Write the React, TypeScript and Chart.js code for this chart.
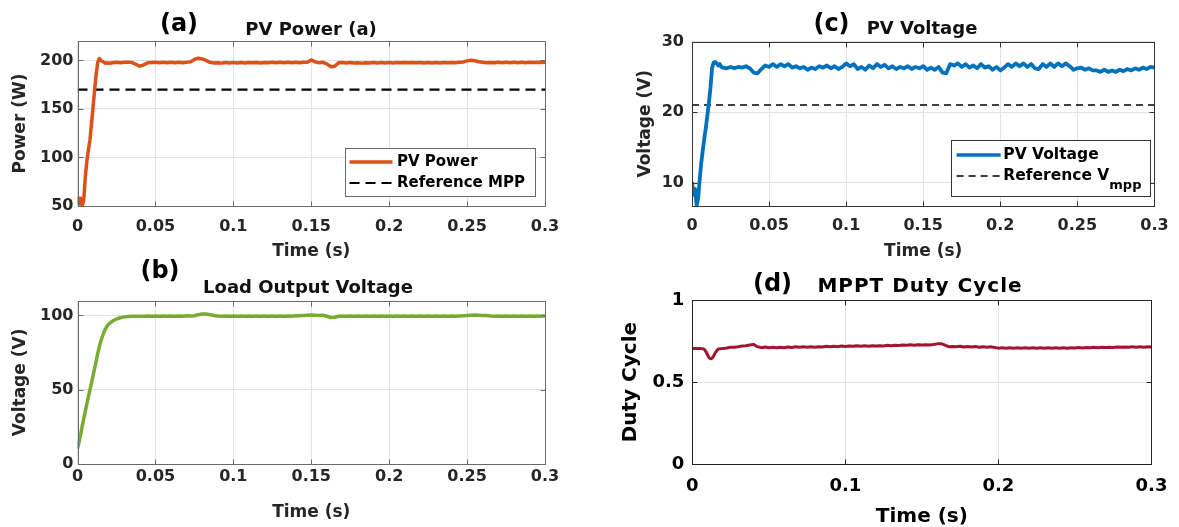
import { useEffect, useRef } from 'react';
import { Chart, registerables } from 'chart.js';

Chart.register(...registerables);

const W = 1179;
const H = 527;
const FONT = "'DejaVu Sans', 'Liberation Sans', Arial, sans-serif";
const GRID = '#e2e2e2';

// Simulation time base (s)
const timeS = [
  0, 0.001, 0.002, 0.003, 0.004, 0.005, 0.006, 0.007, 0.008, 0.009, 0.01,
  0.011, 0.012, 0.013, 0.014, 0.015, 0.016, 0.017, 0.018, 0.019, 0.02,
  0.0225, 0.025, 0.0275, 0.03, 0.0325, 0.035, 0.0375, 0.04, 0.0425, 0.045, 0.0475, 0.05,
  0.0525, 0.055, 0.0575, 0.06, 0.0625, 0.065, 0.0675, 0.07, 0.0725, 0.075, 0.0775, 0.08,
  0.0825, 0.085, 0.0875, 0.09, 0.0925, 0.095, 0.0975, 0.1,
  0.1025, 0.105, 0.1075, 0.11, 0.1125, 0.115, 0.1175, 0.12, 0.1225, 0.125, 0.1275, 0.13,
  0.1325, 0.135, 0.1375, 0.14, 0.1425, 0.145, 0.1475, 0.15,
  0.1525, 0.155, 0.1575, 0.16, 0.1625, 0.165, 0.1675, 0.17, 0.1725, 0.175, 0.1775, 0.18,
  0.1825, 0.185, 0.1875, 0.19, 0.1925, 0.195, 0.1975, 0.2,
  0.2025, 0.205, 0.2075, 0.21, 0.2125, 0.215, 0.2175, 0.22, 0.2225, 0.225, 0.2275, 0.23,
  0.2325, 0.235, 0.2375, 0.24, 0.2425, 0.245, 0.2475, 0.25,
  0.2525, 0.255, 0.2575, 0.26, 0.2625, 0.265, 0.2675, 0.27, 0.2725, 0.275, 0.2775, 0.28,
  0.2825, 0.285, 0.2875, 0.29, 0.2925, 0.295, 0.2975, 0.3,
];

// PV array output power (W)
const pvPowerW = [
  60, 52, 58, 50, 56, 80, 96, 108, 118, 135, 152, 170, 186, 198, 202, 200, 199, 198, 197, 197.5, 197,
  197.5, 198, 197.6, 198, 198, 197.8, 196, 194, 195.5, 197.5, 197.8, 198,
  197.6, 198, 197.7, 198, 197.6, 198.1, 197.7, 198, 198.5, 201, 202.3, 201.6,
  200, 198, 197.4, 197.6, 197.2, 197.8, 197.4, 197.8,
  197.3, 197.8, 197.4, 197.9, 197.5, 197.9, 197.4, 197.9, 197.6, 198, 197.6, 198,
  197.6, 198, 197.7, 198.2, 197.7, 198.2, 198, 200.5,
  198.5, 197.6, 198, 196.5, 193.5, 194, 197.5, 197.8, 197.4, 197.8, 197.3, 197.7,
  197.2, 197.7, 197.3, 197.8, 197.3, 197.8, 197.4, 197.8,
  197.4, 197.9, 197.5, 197.9, 197.5, 197.9, 197.5, 197.9, 197.4, 197.8, 197.4, 197.8,
  197.4, 197.8, 197.5, 197.9, 197.6, 198, 198.4, 199.5,
  200.2, 199.6, 198.6, 198, 197.5, 197.9, 197.6, 198, 197.6, 198, 197.7, 198.1,
  197.7, 198.1, 197.7, 198.1, 197.8, 198.2, 197.9, 198.2,
];

// PV array terminal voltage (V)
const pvVoltageV = [
  10.1, 8.3, 9.1, 6.8, 7.8, 10.5, 12.8, 14.6, 16.3, 17.8, 19.6, 21.4, 23.5, 26.2, 27.0, 27.1, 26.9, 26.6, 26.8, 26.4, 26.3,
  26.2, 26.4, 26.2, 26.4, 26.3, 26.5, 26.2, 25.6, 25.5, 26.1, 26.6, 26.4,
  26.8, 26.4, 26.8, 26.5, 26.8, 26.3, 26.5, 26.2, 26.4, 26.0, 26.3, 26.1,
  26.5, 26.3, 26.6, 26.2, 26.5, 26.1, 26.4, 26.9,
  26.5, 26.8, 26.1, 26.4, 26.0, 26.6, 26.2, 26.8, 26.4, 26.7, 26.2, 26.5,
  26.1, 26.4, 26.2, 26.5, 26.1, 26.4, 26.2, 26.5,
  26.0, 26.3, 26.0, 26.4, 25.6, 25.5, 26.8, 26.6, 26.9, 26.4, 26.8, 26.3,
  26.6, 26.2, 26.8, 26.3, 26.5, 26.0, 26.4, 25.9,
  26.3, 26.8, 26.4, 26.9, 26.5, 26.9, 26.4, 26.8, 26.2, 26.1, 26.8, 26.4,
  26.9, 26.4, 26.9, 26.5, 26.9, 26.5, 26.0, 26.2,
  26.3, 26.0, 26.2, 25.9, 25.9, 25.7, 26.0, 25.7, 25.9, 25.7, 26.0, 25.8,
  26.1, 25.9, 26.2, 26.0, 26.3, 26.1, 26.4, 26.3,
];

// Boost converter load voltage (V)
const loadVoltageV = [
  10.5, 15, 20, 25.5, 30.5, 35.5, 40.5, 45.5, 50, 54.8, 59.5, 64.5, 69.5, 74.5, 79, 82.8, 86, 88.8, 91, 92.8, 94.2,
  96.2, 97.6, 98.4, 99.0, 99.3, 99.4, 99.5, 99.4, 99.5, 99.6, 99.5, 99.6,
  99.5, 99.6, 99.5, 99.6, 99.5, 99.6, 99.5, 99.7, 99.6, 99.8, 100.4, 100.9,
  100.9, 100.5, 99.9, 99.6, 99.5, 99.6, 99.4, 99.6,
  99.5, 99.6, 99.4, 99.6, 99.5, 99.6, 99.5, 99.6, 99.5, 99.6, 99.5, 99.6,
  99.5, 99.6, 99.5, 99.7, 99.8, 100, 100.1, 100.2,
  100.1, 100, 100.1, 99.4, 98.6, 98.8, 99.4, 99.6, 99.5, 99.6, 99.4, 99.6,
  99.5, 99.6, 99.4, 99.6, 99.5, 99.6, 99.5, 99.6,
  99.5, 99.6, 99.4, 99.6, 99.5, 99.6, 99.5, 99.6, 99.4, 99.6, 99.5, 99.6,
  99.5, 99.6, 99.5, 99.6, 99.5, 99.6, 99.7, 99.9,
  100.1, 100.2, 100.1, 100, 99.9, 99.6, 99.5, 99.6, 99.5, 99.6, 99.5, 99.6,
  99.5, 99.6, 99.5, 99.6, 99.5, 99.6, 99.5, 99.6,
];

// MPPT controller duty cycle (-)
const dutyCycle = [
  0.705, 0.705, 0.705, 0.705, 0.705, 0.705, 0.704, 0.703, 0.698, 0.685, 0.665,
  0.648, 0.642, 0.646, 0.66, 0.678, 0.692, 0.702, 0.703, 0.704, 0.705,
  0.708, 0.712, 0.713, 0.716, 0.72, 0.722, 0.726, 0.73, 0.716, 0.71, 0.714, 0.71,
  0.713, 0.709, 0.713, 0.71, 0.714, 0.711, 0.715, 0.712, 0.716, 0.713, 0.716, 0.712,
  0.716, 0.714, 0.718, 0.715, 0.719, 0.716, 0.72, 0.717,
  0.72, 0.718, 0.722, 0.719, 0.721, 0.719, 0.722, 0.72, 0.722, 0.72, 0.724, 0.722,
  0.725, 0.723, 0.726, 0.724, 0.727, 0.725, 0.728, 0.726,
  0.728, 0.726, 0.729, 0.733, 0.734, 0.726, 0.716, 0.717, 0.715, 0.718, 0.714, 0.717,
  0.714, 0.717, 0.713, 0.716, 0.713, 0.715, 0.711, 0.707,
  0.709, 0.706, 0.709, 0.706, 0.709, 0.706, 0.709, 0.706, 0.709, 0.706, 0.709, 0.706,
  0.709, 0.707, 0.71, 0.707, 0.71, 0.707, 0.71, 0.708,
  0.711, 0.708, 0.711, 0.709, 0.712, 0.71, 0.713, 0.711, 0.713, 0.711, 0.714, 0.712,
  0.714, 0.712, 0.715, 0.713, 0.715, 0.713, 0.716, 0.714,
];

const refMppW = 170;
const refVmppV = 21;

const xTicksFine = [0, 0.05, 0.1, 0.15, 0.2, 0.25, 0.3];
const xTickLabelsFine = ['0', '0.05', '0.1', '0.15', '0.2', '0.25', '0.3'];
const xTicksCoarse = [0, 0.1, 0.2, 0.3];
const xTickLabelsCoarse = ['0', '0.1', '0.2', '0.3'];
const powerTicks = [50, 100, 150, 200];
const powerTickLabels = ['50', '100', '150', '200'];
const pvVoltTicks = [10, 20, 30];
const pvVoltTickLabels = ['10', '20', '30'];
const loadVoltTicks = [0, 50, 100];
const loadVoltTickLabels = ['0', '50', '100'];
const dutyTicks = [0, 0.5, 1];
const dutyTickLabels = ['0', '0.5', '1'];

const toPoints = (xs: number[], ys: number[]) =>
  ys.slice(0, xs.length).map((y, i) => ({ x: xs[i], y }));
const flatLine = (v: number) => [
  { x: xTicksFine[0], y: v },
  { x: xTicksFine[xTicksFine.length - 1], y: v },
];

// Draws the MATLAB-style axes box, inward ticks, panel titles and legends.
const panelDecor = {
  id: 'panelDecor',
  afterDraw(chart: any, _args: any, o: any) {
    const { ctx, chartArea: a } = chart;
    const xs = chart.scales.x;
    const ys = chart.scales.y;
    ctx.save();
    ctx.strokeStyle = o.axisColor;
    ctx.lineWidth = 1;
    const l = Math.round(a.left) + 0.5;
    const r = Math.round(a.right) + 0.5;
    const t = Math.round(a.top) + 0.5;
    const b = Math.round(a.bottom) + 0.5;
    ctx.strokeRect(l, t, r - l, b - t);
    ctx.beginPath();
    for (const tk of xs.ticks) {
      const p = Math.round(xs.getPixelForValue(tk.value)) + 0.5;
      ctx.moveTo(p, b);
      ctx.lineTo(p, b - o.tickLen);
      ctx.moveTo(p, t);
      ctx.lineTo(p, t + o.tickLen);
    }
    for (const tk of ys.ticks) {
      const p = Math.round(ys.getPixelForValue(tk.value)) + 0.5;
      ctx.moveTo(l, p);
      ctx.lineTo(l + o.tickLen, p);
      ctx.moveTo(r, p);
      ctx.lineTo(r - o.tickLen, p);
    }
    ctx.stroke();

    if (o.legend) {
      const lg = o.legend;
      const [x0, y0, x1, y1] = lg.box;
      ctx.fillStyle = '#ffffff';
      ctx.fillRect(x0, y0, x1 - x0, y1 - y0);
      ctx.strokeStyle = o.axisColor;
      ctx.lineWidth = 1;
      ctx.strokeRect(Math.round(x0) + 0.5, Math.round(y0) + 0.5, Math.round(x1 - x0), Math.round(y1 - y0));
      lg.rows.forEach((row: any) => {
        const ds = chart.data.datasets[row.dataset];
        ctx.beginPath();
        ctx.strokeStyle = ds.borderColor;
        ctx.lineWidth = row.sampleWidth;
        ctx.setLineDash(ds.borderDash || []);
        ctx.moveTo(lg.sample[0], row.y);
        ctx.lineTo(lg.sample[1], row.y);
        ctx.stroke();
        ctx.setLineDash([]);
        ctx.fillStyle = '#000000';
        ctx.textAlign = 'left';
        ctx.textBaseline = 'middle';
        ctx.font = `bold ${lg.size}px ${FONT}`;
        ctx.fillText(ds.label, lg.textX, row.y);
        if (row.sub) {
          const w = ctx.measureText(ds.label).width;
          ctx.font = `bold ${lg.subSize}px ${FONT}`;
          ctx.fillText(row.sub, lg.textX + w, row.y + lg.subDrop);
        }
      });
    }

    for (const tx of o.texts) {
      ctx.font = `bold ${tx.size}px ${FONT}`;
      ctx.fillStyle = tx.color;
      ctx.textAlign = 'center';
      ctx.textBaseline = 'middle';
      ctx.letterSpacing = `${tx.spacing || 0}px`;
      ctx.fillText(tx.text, tx.x, tx.y);
    }
    ctx.letterSpacing = '0px';
    ctx.restore();
  },
};

type PanelSpec = {
  area: { left: number; top: number; right: number; bottom: number };
  yBoxWidth: number;
  xBoxHeight: number;
  xTicks: number[];
  xTickLabels: string[];
  yTicks: number[];
  yTickLabels: string[];
  yMin: number;
  yMax: number;
  yTitle: string;
  textColor: string;
  axisColor: string;
  tickSize: number;
  titleSize: number;
  xTickPad: number;
  yTickPad: number;
  xTitlePad: number;
  yTitlePad: number;
  xTitleLineHeight?: number;
  datasets: any[];
  texts: any[];
  legend?: any;
};

function makeConfig(p: PanelSpec): any {
  const tickFont = { family: FONT, size: p.tickSize, weight: 'bold' };
  const titleFont = { family: FONT, size: p.titleSize, weight: 'bold' };
  return {
    type: 'line',
    data: { datasets: p.datasets },
    plugins: [panelDecor],
    options: {
      responsive: false,
      animation: false,
      events: [],
      layout: {
        padding: {
          left: p.area.left - p.yBoxWidth,
          top: p.area.top,
          right: W - p.area.right,
          bottom: H - p.area.bottom - p.xBoxHeight,
        },
      },
      elements: { point: { radius: 0 }, line: { tension: 0, borderJoinStyle: 'round' } },
      plugins: {
        legend: { display: false },
        tooltip: { enabled: false },
        title: { display: false },
        panelDecor: { axisColor: p.axisColor, tickLen: 5, texts: p.texts, legend: p.legend },
      },
      scales: {
        x: {
          type: 'linear',
          min: p.xTicks[0],
          max: p.xTicks[p.xTicks.length - 1],
          afterFit: (s: any) => {
            s.height = p.xBoxHeight;
          },
          afterBuildTicks: (s: any) => {
            s.ticks = p.xTicks.map((v) => ({ value: v }));
          },
          grid: { color: GRID, drawTicks: false },
          border: { display: false },
          ticks: {
            padding: p.xTickPad,
            color: p.textColor,
            font: tickFont,
            maxRotation: 0,
            autoSkip: false,
            callback: (_v: any, i: number) => p.xTickLabels[i],
          },
          title: {
            display: true,
            text: 'Time (s)',
            color: p.textColor,
            font: { ...titleFont, lineHeight: p.xTitleLineHeight || 1.2 },
            padding: { top: 0, bottom: p.xTitlePad },
          },
        },
        y: {
          type: 'linear',
          min: p.yMin,
          max: p.yMax,
          afterFit: (s: any) => {
            s.width = p.yBoxWidth;
          },
          afterBuildTicks: (s: any) => {
            s.ticks = p.yTicks.map((v) => ({ value: v }));
          },
          grid: { color: GRID, drawTicks: false },
          border: { display: false },
          ticks: {
            padding: p.yTickPad,
            color: p.textColor,
            font: tickFont,
            autoSkip: false,
            callback: (_v: any, i: number) => p.yTickLabels[i],
          },
          title: {
            display: true,
            text: p.yTitle,
            color: p.textColor,
            font: titleFont,
            padding: { top: p.yTitlePad, bottom: 0 },
          },
        },
      },
    },
  };
}

const DARK = '#262626';

const panels: PanelSpec[] = [
  {
    area: { left: 77.5, top: 41, right: 545, bottom: 206 },
    yBoxWidth: 77.5,
    xBoxHeight: 56,
    xTicks: xTicksFine,
    xTickLabels: xTickLabelsFine,
    yTicks: powerTicks,
    yTickLabels: powerTickLabels,
    yMin: 50,
    yMax: 220,
    yTitle: 'Power (W)',
    textColor: DARK,
    axisColor: '#6a6a6a',
    tickSize: 16,
    titleSize: 17,
    xTickPad: 11,
    yTickPad: 4,
    xTitlePad: 0,
    yTitlePad: 10.4,
    datasets: [
      { label: 'PV Power', data: toPoints(timeS, pvPowerW), borderColor: '#D95319', borderWidth: 3.5 },
      { label: 'Reference MPP', data: flatLine(refMppW), borderColor: '#000000', borderWidth: 2.2, borderDash: [10, 6] },
    ],
    texts: [
      { text: '(a)', x: 179, y: 25, size: 24, color: '#000000' },
      { text: 'PV Power (a)', x: 311, y: 30, size: 18, color: '#111111' },
    ],
    legend: {
      box: [345, 148, 535, 196],
      sample: [349.5, 392.5],
      textX: 397,
      size: 15,
      rows: [
        { dataset: 0, y: 162, sampleWidth: 3.5 },
        { dataset: 1, y: 183, sampleWidth: 2 },
      ],
    },
  },
  {
    area: { left: 77.5, top: 300.5, right: 545, bottom: 464.3 },
    yBoxWidth: 77.5,
    xBoxHeight: 62.7,
    xTicks: xTicksFine,
    xTickLabels: xTickLabelsFine,
    yTicks: loadVoltTicks,
    yTickLabels: loadVoltTickLabels,
    yMin: 0,
    yMax: 110,
    yTitle: 'Voltage (V)',
    textColor: DARK,
    axisColor: '#6a6a6a',
    tickSize: 16,
    titleSize: 17,
    xTickPad: 2.8,
    yTickPad: 4,
    xTitlePad: 4.3,
    yTitlePad: 10.2,
    datasets: [
      { label: 'Load Output Voltage', data: toPoints(timeS, loadVoltageV), borderColor: '#77AC30', borderWidth: 3.5 },
    ],
    texts: [
      { text: '(b)', x: 160, y: 272, size: 24, color: '#000000' },
      { text: 'Load Output Voltage', x: 308, y: 288, size: 18, color: '#111111' },
    ],
  },
  {
    area: { left: 692, top: 41.5, right: 1157, bottom: 206 },
    yBoxWidth: 60,
    xBoxHeight: 56,
    xTicks: xTicksFine,
    xTickLabels: xTickLabelsFine,
    yTicks: pvVoltTicks,
    yTickLabels: pvVoltTickLabels,
    yMin: 6.7,
    yMax: 30,
    yTitle: 'Voltage (V)',
    textColor: DARK,
    axisColor: '#333333',
    tickSize: 16,
    titleSize: 17,
    xTickPad: 10.4,
    yTickPad: 8,
    xTitlePad: 0.1,
    yTitlePad: 3.8,
    datasets: [
      { label: 'PV Voltage', data: toPoints(timeS, pvVoltageV), borderColor: '#0072BD', borderWidth: 3.8 },
      { label: 'Reference V', data: flatLine(refVmppV), borderColor: '#000000', borderWidth: 1.6, borderDash: [7, 5] },
    ],
    texts: [
      { text: '(c)', x: 831.5, y: 25, size: 24, color: '#000000' },
      { text: 'PV Voltage', x: 922, y: 29, size: 18, color: '#111111' },
    ],
    legend: {
      box: [951, 140, 1150, 196],
      sample: [956.6, 1000.7],
      textX: 1003.3,
      size: 15.5,
      subSize: 13,
      subDrop: 10,
      rows: [
        { dataset: 0, y: 155, sampleWidth: 3.5 },
        { dataset: 1, y: 176, sampleWidth: 1.6, sub: 'mpp' },
      ],
    },
  },
  {
    area: { left: 692.3, top: 300, right: 1158, bottom: 464.3 },
    yBoxWidth: 80,
    xBoxHeight: 62.7,
    xTicks: xTicksCoarse,
    xTickLabels: xTickLabelsCoarse,
    yTicks: dutyTicks,
    yTickLabels: dutyTickLabels,
    yMin: 0,
    yMax: 1,
    yTitle: 'Duty Cycle',
    textColor: '#000000',
    axisColor: '#222222',
    tickSize: 18,
    titleSize: 20,
    xTickPad: 11.6,
    yTickPad: 8,
    xTitlePad: 0.3,
    xTitleLineHeight: 1,
    yTitlePad: 6.7,
    datasets: [
      { label: 'Duty Cycle', data: toPoints(timeS, dutyCycle), borderColor: '#A2142F', borderWidth: 3 },
    ],
    texts: [
      { text: '(d)', x: 772.5, y: 285, size: 24, color: '#000000' },
      { text: 'MPPT Duty Cycle', x: 920, y: 287, size: 20, color: '#000000', spacing: 1 },
    ],
  },
];

function Panel({ spec }: { spec: PanelSpec }) {
  const ref = useRef<HTMLCanvasElement>(null);
  useEffect(() => {
    const chart = new Chart(ref.current as HTMLCanvasElement, makeConfig(spec));
    return () => chart.destroy();
  }, [spec]);
  return (
    <canvas
      ref={ref}
      width={W}
      height={H}
      style={{ position: 'absolute', left: 0, top: 0, width: W, height: H }}
    />
  );
}

export default function App() {
  return (
    <div
      style={{
        position: 'absolute',
        left: 0,
        top: 0,
        width: W,
        height: H,
        background: '#ffffff',
        overflow: 'hidden',
      }}
    >
      {panels.map((p, i) => (
        <Panel key={i} spec={p} />
      ))}
    </div>
  );
}
